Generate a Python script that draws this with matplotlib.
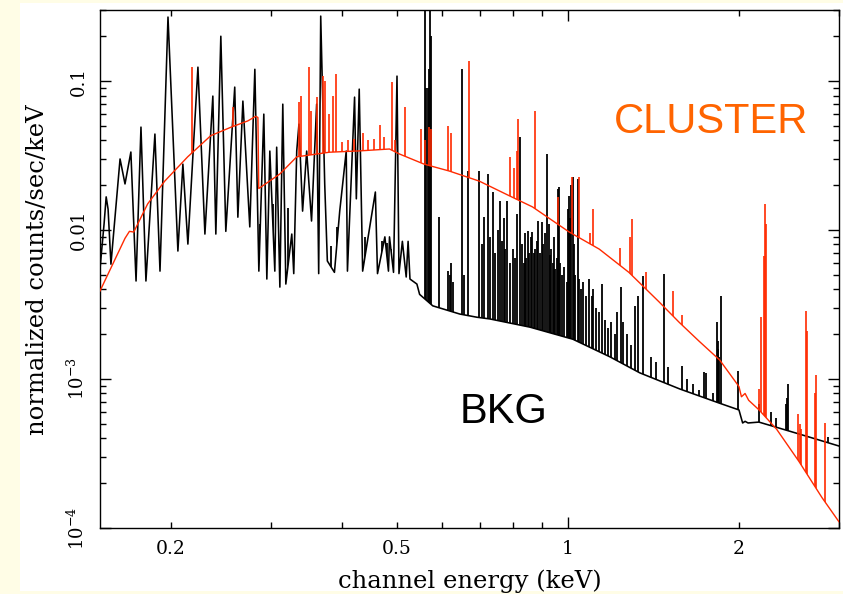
import numpy as np
import matplotlib
matplotlib.use("Agg")
import matplotlib.pyplot as plt
from matplotlib.patches import Polygon, Rectangle
from matplotlib.ticker import FixedLocator, FuncFormatter, LogLocator, NullFormatter

# ---------------- data ----------------
# CLUSTER (red) continuum
cluster_E = [0.150, 0.166, 0.169, 0.172, 0.182, 0.195, 0.214, 0.235, 0.255, 0.273, 0.282, 0.2845,
             0.2855, 0.311, 0.333, 0.380, 0.430, 0.485, 0.505, 0.558, 0.618, 0.698, 0.788, 0.866,
             1.005, 1.135, 1.28, 1.446, 1.57, 1.70, 1.85, 2.0, 2.02, 2.05, 2.08, 2.17, 2.33, 2.55,
             2.80, 3.0]
cluster_v = [0.0039, 0.0088, 0.0098, 0.0097, 0.0150, 0.0213, 0.031, 0.043, 0.049, 0.054, 0.058, 0.057,
             0.019, 0.0238, 0.031, 0.0333, 0.034, 0.035, 0.0324, 0.0277, 0.0249, 0.0213, 0.017, 0.0143,
             0.0097, 0.00745, 0.0052, 0.0033, 0.0024, 0.0018, 0.00134, 0.00089, 0.00076, 0.00080,
             0.00072, 0.00062, 0.00046, 0.00028, 0.00016, 0.00011]

# CLUSTER emission lines: energy and peak value
cluster_line_E = [0.218, 0.257, 0.336, 0.339, 0.350, 0.353, 0.361, 0.370, 0.374, 0.379, 0.386, 0.390,
                  0.400, 0.410, 0.420, 0.435, 0.445, 0.455, 0.466, 0.475, 0.490, 0.495, 0.516, 0.552,
                  0.560, 0.570, 0.575, 0.615, 0.622, 0.669, 0.790, 0.805, 0.812, 0.816, 0.875, 0.960,
                  1.016, 1.045, 1.093, 1.107, 1.234, 1.285, 1.296, 1.372, 1.530, 1.585, 2.17, 2.19,
                  2.21, 2.222, 2.235, 2.54, 2.56, 2.575, 2.62, 2.63, 2.72, 2.73, 2.83]
cluster_line_top = [0.124, 0.067, 0.072, 0.080, 0.124, 0.063, 0.078, 0.108, 0.100, 0.060, 0.079, 0.111,
                    0.039, 0.040, 0.041, 0.045, 0.040, 0.041, 0.051, 0.042, 0.098, 0.040, 0.067, 0.048,
                    0.040, 0.049, 0.048, 0.050, 0.045, 0.136, 0.031, 0.026, 0.034, 0.056, 0.063, 0.0166,
                    0.0227, 0.0227, 0.0096, 0.0138, 0.0076, 0.0090, 0.0118, 0.0052, 0.0039, 0.0027,
                    0.00086, 0.0026, 0.0067, 0.0149, 0.011, 0.00058, 0.00050, 0.00046, 0.00285, 0.0021,
                    0.0008, 0.00107, 0.00051]

# BKG (black) spectrum: low-energy comb and continuum
bkg_E = [0.150, 0.1525, 0.1538, 0.155, 0.1568, 0.1627, 0.166, 0.170, 0.1736, 0.1771, 0.1807, 0.1874,
         0.1913, 0.1976, 0.2057, 0.2099, 0.2142, 0.2231, 0.2295, 0.2370, 0.2399, 0.2448, 0.2498,
         0.259, 0.2623, 0.2677, 0.2753, 0.281, 0.2856, 0.2914, 0.295, 0.2986, 0.3047, 0.307, 0.311,
         0.3147, 0.3186, 0.3264, 0.329, 0.333, 0.336, 0.341, 0.3467, 0.3536, 0.361, 0.364, 0.367,
         0.373, 0.377, 0.388, 0.3964, 0.407, 0.409, 0.421, 0.424, 0.429, 0.435, 0.458, 0.462, 0.476,
         0.483, 0.485, 0.493, 0.500, 0.504, 0.511, 0.519, 0.523, 0.527, 0.542, 0.548, 0.578, 0.645,
         0.691, 0.729, 0.857, 1.02, 1.185, 1.338, 1.574, 1.845, 2.0, 2.016, 2.03, 2.05, 2.075,
         2.168, 2.55, 3.0]
bkg_v = [0.0055, 0.0110, 0.0167, 0.0138, 0.0059, 0.030, 0.0204, 0.0334, 0.00455, 0.0491, 0.00455,
         0.0441, 0.0053, 0.269, 0.00723, 0.0277, 0.00805, 0.124, 0.0094, 0.0793, 0.0094, 0.200,
         0.0098, 0.0911, 0.0122, 0.0734, 0.0105, 0.120, 0.0053, 0.060, 0.00469, 0.0339, 0.0053,
         0.036, 0.00414, 0.070, 0.00434, 0.0094, 0.0051, 0.0339, 0.0514, 0.0134, 0.0339, 0.0115,
         0.070, 0.0051, 0.273, 0.0204, 0.0062, 0.0052, 0.0134, 0.0339, 0.0053, 0.078, 0.0162,
         0.0883, 0.0053, 0.018, 0.0051, 0.0090, 0.0053, 0.0090, 0.0052, 0.108, 0.0051, 0.0084,
         0.00484, 0.0084, 0.00469, 0.00434, 0.0037, 0.0031, 0.00273, 0.0026, 0.00253, 0.00223,
         0.00185, 0.00141, 0.0011, 0.000857, 0.00069, 0.00062, 0.000556, 0.000507, 0.00052,
         0.000507, 0.000514, 0.000428, 0.000355]

# BKG emission lines: energy and peak value
bkg_line_E = [0.287, 0.293, 0.302, 0.309, 0.316, 0.322, 0.330, 0.345, 0.350, 0.357, 0.368, 0.383,
              0.392, 0.402, 0.415, 0.440, 0.447, 0.452, 0.470, 0.480, 0.488, 0.497,
              0.560, 0.562, 0.566, 0.570, 0.572, 0.574, 0.593, 0.614, 0.620, 0.622, 0.627, 0.651,
              0.657, 0.666, 0.697, 0.705, 0.711, 0.723, 0.730, 0.738, 0.745, 0.752, 0.760, 0.765,
              0.770, 0.775, 0.781, 0.790, 0.800, 0.806, 0.813, 0.823, 0.830, 0.835, 0.840, 0.845,
              0.850, 0.855, 0.860, 0.865, 0.870, 0.875, 0.882, 0.887, 0.893, 0.900, 0.905, 0.910,
              0.918, 0.925, 0.930, 0.935, 0.940, 0.945, 0.950, 0.955, 0.960, 0.965, 0.970, 0.975,
              0.985, 0.995, 1.000, 1.005, 1.010, 1.013, 1.020, 1.025, 1.030, 1.040, 1.047, 1.055,
              1.064, 1.075, 1.089, 1.100, 1.107, 1.120, 1.135, 1.147, 1.160, 1.175, 1.19, 1.21,
              1.22, 1.238, 1.25, 1.27, 1.29, 1.311, 1.33, 1.355, 1.40, 1.43, 1.476, 1.50, 1.587,
              1.62, 1.657, 1.70, 1.736, 1.75, 1.80, 1.83, 1.835, 1.84, 1.845, 1.86, 1.99, 2.168,
              2.28, 2.32, 2.42, 2.43, 2.44, 2.87]
bkg_line_top = [0.011, 0.0125, 0.015, 0.0105, 0.012, 0.014, 0.0095, 0.0105, 0.0165, 0.0095, 0.20, 0.0078,
                0.0105, 0.0085, 0.0105, 0.0090, 0.0080, 0.0072, 0.0085, 0.0082, 0.0075, 0.0072,
                0.5, 0.09, 0.09, 0.12, 0.5, 0.2, 0.0122, 0.0053, 0.0050, 0.0060, 0.0045, 0.12,
                0.0050, 0.0249, 0.0249, 0.0080, 0.0122, 0.0237, 0.0090, 0.018, 0.0070, 0.0100, 0.0157,
                0.0085, 0.012, 0.0075, 0.0157, 0.0060, 0.0075, 0.0065, 0.0128, 0.042, 0.0080, 0.0060,
                0.0095, 0.0065, 0.0098, 0.0070, 0.0090, 0.0097, 0.0070, 0.0075, 0.0085, 0.0115,
                0.0070, 0.0113, 0.0080, 0.0095, 0.0324, 0.0110, 0.0068, 0.0075, 0.0060, 0.0090,
                0.0055, 0.0065, 0.0188, 0.0195, 0.0060, 0.0050, 0.00565, 0.0045, 0.0138, 0.017,
                0.012, 0.020, 0.0227, 0.0080, 0.0050, 0.022, 0.0047, 0.0040, 0.0045, 0.0036,
                0.00469, 0.0036, 0.0040, 0.0030, 0.0028, 0.00434, 0.0025, 0.0022, 0.0024, 0.0020,
                0.0028, 0.00414, 0.0024, 0.0020, 0.0017, 0.0031, 0.0036, 0.0049, 0.0014, 0.0013,
                0.0051, 0.0012, 0.00122, 0.0010, 0.00092, 0.00085, 0.00112, 0.0011, 0.0008, 0.00242,
                0.0018, 0.0016, 0.0014, 0.0036, 0.00113, 0.00068, 0.00060, 0.00055, 0.00068,
                0.00075, 0.00092, 0.00041]

x_tick_labels = {0.2: "0.2", 0.5: "0.5", 1.0: "1", 2.0: "2"}
y_tick_labels = {0.1: "0.1", 0.01: "0.01", 1e-3: r"$10^{-3}$", 1e-4: r"$10^{-4}$"}

# ---------------- figure ----------------
plt.rcParams["mathtext.fontset"] = "dejavuserif"
W, H = 843, 594
fig = plt.figure(figsize=(W / 100, H / 100), dpi=100, facecolor="#fffde6")
fig.patches.append(Rectangle((20 / W, 0.005), 1.0, 588 / H, transform=fig.transFigure,
                             facecolor="white", edgecolor="none", zorder=-10))

ax = fig.add_axes([100 / W, 1 - 528 / H, 739 / W, 518 / H])
ax.set_xscale("log")
ax.set_yscale("log")
ax.set_xlim(0.15, 3.0)
ax.set_ylim(1e-4, 0.3)

BLACK = "black"
RED = "#ff2a00"


def region_above(E, v):
    verts = list(zip(E, v)) + [(E[-1], 50.0), (E[0], 50.0)]
    return Polygon(verts, closed=True, transform=ax.transData, facecolor="none", edgecolor="none")


# background spectrum
ax.plot(bkg_E, bkg_v, color=BLACK, lw=1.15, zorder=2)
lc = ax.vlines(bkg_line_E, 1e-6, bkg_line_top, colors=BLACK, lw=1.3, zorder=2)
lc.set_clip_path(region_above(bkg_E, bkg_v))

# cluster spectrum
ax.plot(cluster_E, cluster_v, color=RED, lw=1.0, zorder=3)
lc2 = ax.vlines(cluster_line_E, 1e-6, cluster_line_top, colors=RED, lw=1.2, zorder=3)
lc2.set_clip_path(region_above(cluster_E, cluster_v))

# ticks
ax.xaxis.set_major_locator(FixedLocator([1.0]))
ax.xaxis.set_minor_locator(FixedLocator([0.2, 0.3, 0.4, 0.5, 0.6, 0.7, 0.8, 0.9, 2.0, 3.0]))
xfmt = FuncFormatter(lambda v, p: x_tick_labels.get(round(v, 3), ""))
ax.xaxis.set_major_formatter(xfmt)
ax.xaxis.set_minor_formatter(xfmt)
ax.yaxis.set_major_locator(LogLocator(base=10, numticks=20))
ax.yaxis.set_minor_locator(LogLocator(base=10, subs=np.arange(2, 10), numticks=20))
ax.yaxis.set_major_formatter(FuncFormatter(
    lambda v, p: next((s for k, s in y_tick_labels.items() if abs(np.log10(v) - np.log10(k)) < 1e-6), "")))
ax.yaxis.set_minor_formatter(NullFormatter())

ax.tick_params(which="both", direction="in", top=True, right=True, width=1.0, color="black")
ax.tick_params(which="major", length=8)
ax.tick_params(which="minor", length=4.3)
ax.tick_params(axis="x", which="both", labelsize=13.5, pad=9)
ax.tick_params(axis="y", which="major", labelsize=13, pad=9, labelrotation=90)
for sp in ax.spines.values():
    sp.set_linewidth(1.0)
    sp.set_color("black")

fig.canvas.draw()
for lab in ax.get_yticklabels():
    lab.set_va("center")
    lab.set_family("DejaVu Serif")
for lab in ax.get_xticklabels(minor=True) + ax.get_xticklabels():
    lab.set_family("DejaVu Serif")

# axis titles
fig.text(470 / W, 1 - 588 / H, "channel energy (keV)", ha="center", va="baseline",
         fontsize=17.5, family="DejaVu Serif")
fig.text(38 / W, 1 - 270 / H, "normalized counts/sec/keV", ha="center", va="center",
         rotation=90, fontsize=17.5, family="DejaVu Serif")

# annotations
fig.text(711 / W, 1 - 133 / H, "CLUSTER", ha="center", va="baseline", fontsize=30,
         family="Liberation Sans", color="#ff6400")
fig.text(504 / W, 1 - 423 / H, "BKG", ha="center", va="baseline", fontsize=30,
         family="Liberation Sans", color="black")

fig.savefig("out.png", dpi=100, facecolor=fig.get_facecolor())
